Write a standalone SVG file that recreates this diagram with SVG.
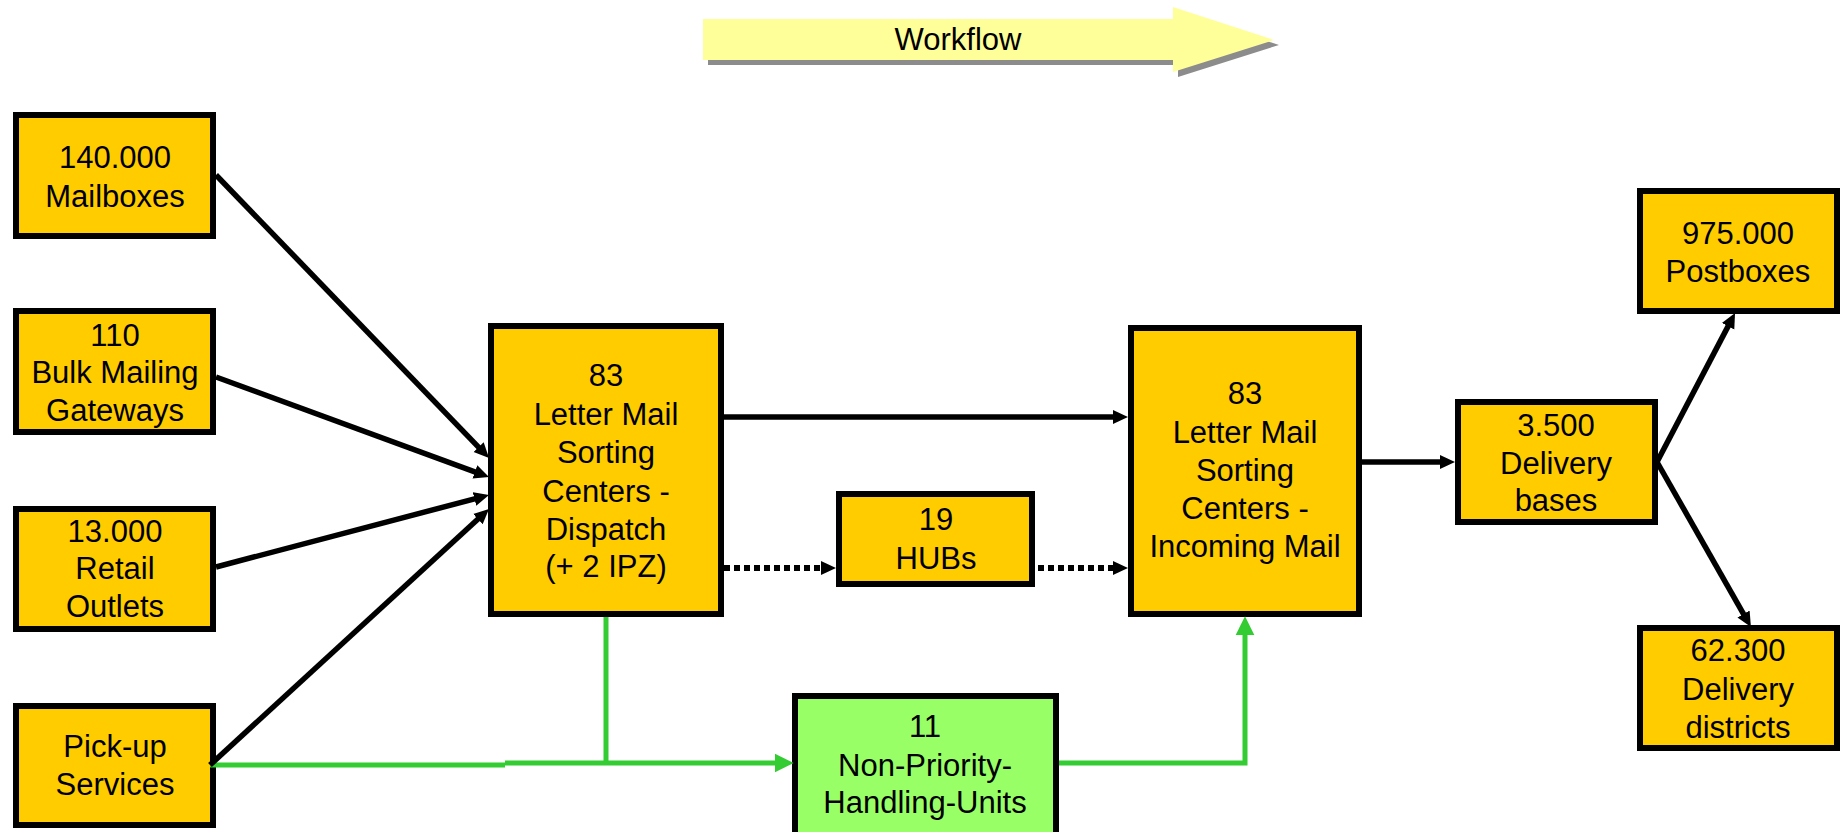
<svg xmlns="http://www.w3.org/2000/svg" width="1841" height="832" viewBox="0 0 1841 832">
<style>
.box{fill:#FFCC00;stroke:#000;stroke-width:6}
.np{fill:#99FF66;stroke:#000;stroke-width:6}
text{font-family:"Liberation Sans",Arial,sans-serif;font-size:31px;fill:#000;text-anchor:middle}
.blk{stroke:#000;stroke-width:5.5;fill:none}
.dot{stroke:#000;stroke-width:6;fill:none;stroke-dasharray:6 4}
.grn{stroke:#33CC33;stroke-width:5;fill:none}
</style>
<defs>
<marker id="ab" markerUnits="userSpaceOnUse" markerWidth="16" markerHeight="16" refX="5" refY="7" orient="auto" viewBox="0 0 16 14">
<path d="M0,0 L15,7 L0,14 z" fill="#000"/>
</marker>
<marker id="ag" markerUnits="userSpaceOnUse" markerWidth="20" markerHeight="20" refX="6" refY="9" orient="auto" viewBox="0 0 19 18">
<path d="M0,0 L18,9 L0,18 z" fill="#33CC33"/>
</marker>
</defs>
<rect width="1841" height="832" fill="#fff"/>
<g id="workflow">
<polygon points="708,24 1178,24 1178,12 1279,45 1178,77 1178,65 708,65" fill="#8C8C8C"/>
<polygon points="703,19 1173,19 1173,7 1274,40 1173,72 1173,60 703,60" fill="#FFFF99"/>
<text x="958" y="50" font-size="30">Workflow</text>
</g>
<g id="mailboxes">
<rect class="box" x="16" y="115" width="197" height="121"/>
<text x="115" y="168">140.000</text>
<text x="115" y="207">Mailboxes</text>
</g>
<g id="bulk">
<rect class="box" x="16" y="311" width="197" height="121"/>
<text x="115" y="346">110</text>
<text x="115" y="383">Bulk Mailing</text>
<text x="115" y="421">Gateways</text>
</g>
<g id="retail">
<rect class="box" x="16" y="509" width="197" height="120"/>
<text x="115" y="542">13.000</text>
<text x="115" y="579">Retail</text>
<text x="115" y="617">Outlets</text>
</g>
<g id="pickup">
<rect class="box" x="16" y="706" width="197" height="119"/>
<text x="115" y="757">Pick-up</text>
<text x="115" y="795">Services</text>
</g>
<g id="dispatch">
<rect class="box" x="491" y="326" width="230" height="288"/>
<text x="606" y="386">83</text>
<text x="606" y="425">Letter Mail</text>
<text x="606" y="463">Sorting</text>
<text x="606" y="502">Centers -</text>
<text x="606" y="540">Dispatch</text>
<text x="606" y="577">(+ 2 IPZ)</text>
</g>
<g id="hubs">
<rect class="box" x="839" y="494" width="193" height="90"/>
<text x="936" y="530">19</text>
<text x="936" y="569">HUBs</text>
</g>
<g id="incoming">
<rect class="box" x="1131" y="328" width="228" height="286"/>
<text x="1245" y="404">83</text>
<text x="1245" y="443">Letter Mail</text>
<text x="1245" y="481">Sorting</text>
<text x="1245" y="519">Centers -</text>
<text x="1245" y="557">Incoming Mail</text>
</g>
<g id="nonpriority">
<rect class="np" x="795" y="696" width="261" height="140"/>
<text x="925" y="737">11</text>
<text x="925" y="776">Non-Priority-</text>
<text x="925" y="813">Handling-Units</text>
</g>
<g id="deliverybases">
<rect class="box" x="1458" y="402" width="197" height="120"/>
<text x="1556" y="436">3.500</text>
<text x="1556" y="474">Delivery</text>
<text x="1556" y="511">bases</text>
</g>
<g id="postboxes">
<rect class="box" x="1640" y="191" width="197" height="120"/>
<text x="1738" y="244">975.000</text>
<text x="1738" y="282">Postboxes</text>
</g>
<g id="districts">
<rect class="box" x="1640" y="628" width="197" height="120"/>
<text x="1738" y="661">62.300</text>
<text x="1738" y="700">Delivery</text>
<text x="1738" y="738">districts</text>
</g>
<g id="connectors">
<line class="blk" x1="216" y1="175" x2="482.1" y2="450.8" marker-end="url(#ab)"/>
<line class="blk" x1="216" y1="377" x2="479.6" y2="473.6" marker-end="url(#ab)"/>
<line class="blk" x1="216" y1="567" x2="479.3" y2="497.6" marker-end="url(#ab)"/>
<polyline class="grn" points="210,765 505,765"/>
<polyline class="grn" points="505,763 606,763"/>
<line class="grn" x1="606" y1="617" x2="606" y2="763"/>
<line class="grn" x1="606" y1="763" x2="781" y2="763" marker-end="url(#ag)"/>
<polyline class="grn" points="1059,763 1245,763 1245,629" marker-end="url(#ag)"/>
<line class="blk" x1="210" y1="765" x2="481.6" y2="515.8" marker-end="url(#ab)"/>
<line class="blk" x1="724" y1="417" x2="1118" y2="417" marker-end="url(#ab)"/>
<line class="dot" x1="724" y1="568" x2="826" y2="568" marker-end="url(#ab)"/>
<line class="dot" x1="1038" y1="568" x2="1118" y2="568" marker-end="url(#ab)"/>
<line class="blk" x1="1362" y1="462" x2="1445" y2="462" marker-end="url(#ab)"/>
<line class="blk" x1="1657" y1="462" x2="1730.4" y2="321.9" marker-end="url(#ab)"/>
<line class="blk" x1="1657" y1="462" x2="1746" y2="618.3" marker-end="url(#ab)"/>
</g>
</svg>
